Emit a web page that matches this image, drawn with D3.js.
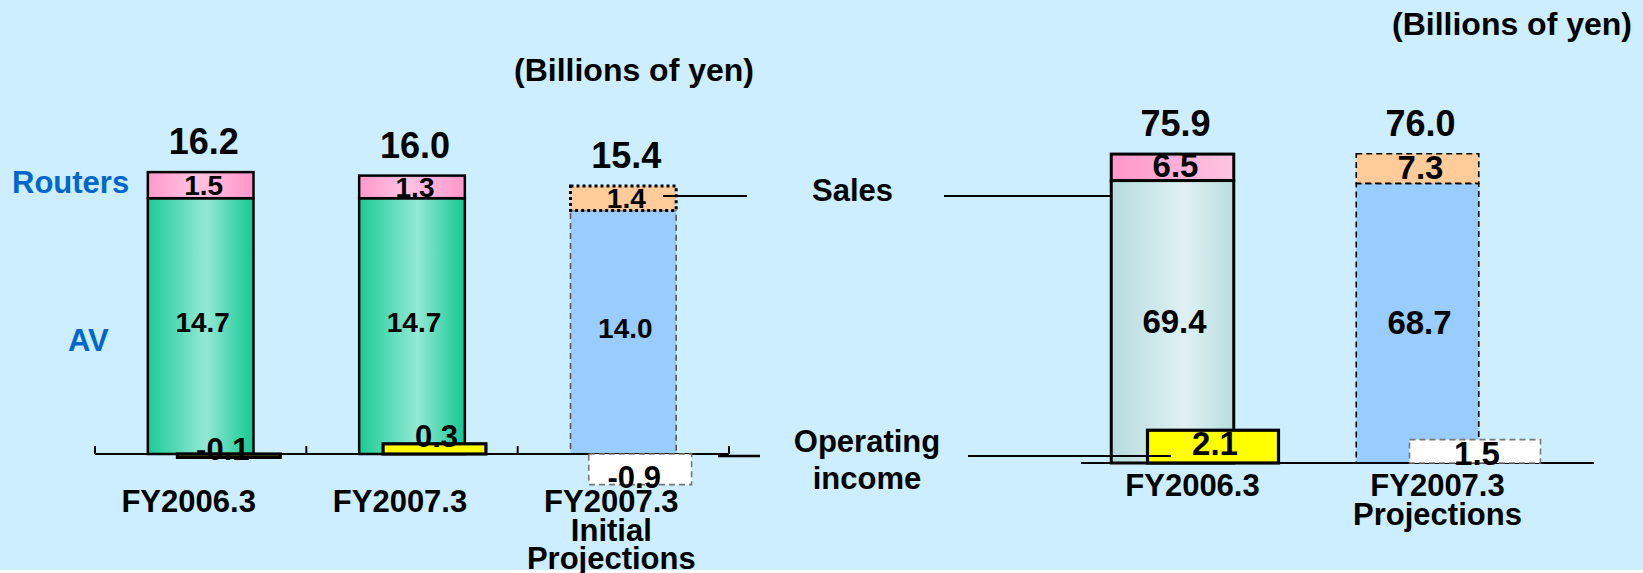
<!DOCTYPE html>
<html>
<head>
<meta charset="utf-8">
<script src="https://cdnjs.cloudflare.com/ajax/libs/d3/7.8.5/d3.min.js"></script>
<style>
  html, body { margin: 0; padding: 0; background: #fff; }
  svg { display: block; }
  text { font-family: "Liberation Sans", Arial, sans-serif; font-weight: bold; fill: #000; }
</style>
</head>
<body>
<div id="chart"></div>
<script>
// Left panel: segment sales (AV + Routers) and operating income
let leftCategories = [["FY2006.3"], ["FY2007.3"], ["FY2007.3", "Initial", "Projections"]];
let leftAV = [14.7, 14.7, 14.0];
let leftRouters = [1.5, 1.3, 1.4];
let leftTotals = [16.2, 16.0, 15.4];
let leftOpIncome = [-0.1, 0.3, -0.9];

// Right panel: total sales and operating income
let rightCategories = [["FY2006.3"], ["FY2007.3", "Projections"]];
let rightLower = [69.4, 68.7];
let rightUpper = [6.5, 7.3];
let rightTotals = [75.9, 76.0];
let rightOpIncome = [2.1, 1.5];

let W = 1643, H = 573;
let svg = d3.select("#chart").append("svg")
	.attr("width", W)
	.attr("height", H);

svg.append("rect")
	.attr("width", W)
	.attr("height", 570)
	.attr("fill", "#cceeff");

// Horizontal gradients for the "actual" bars
let defs = svg.append("defs");
function hGradient(id, stops) {
	let g = defs.append("linearGradient").attr("id", id)
		.attr("x1", "0%").attr("x2", "100%").attr("y1", "0%").attr("y2", "0%");
	stops.forEach(s => g.append("stop").attr("offset", s[0]).attr("stop-color", s[1]));
}
hGradient("green", [["0%", "#1ccb96"], ["55%", "#93e9d5"], ["100%", "#14c891"]]);
hGradient("pinkL", [["0%", "#ff99cc"], ["45%", "#ffc3e1"], ["100%", "#ff97ca"]]);
hGradient("teal", [["0%", "#b6dcdd"], ["60%", "#dff0f3"], ["100%", "#b8dedf"]]);
hGradient("pinkR", [["0%", "#ff97c9"], ["100%", "#ffc3e0"]]);

// plain hyphen for negatives, like the original slide
let fmt = v => v.toFixed(1);

function drawPanel(p) {
	let keys = p.categories.map(c => c.join(" "));
	let n = keys.length;
	let isProj = i => i === n - 1;
	let x = p.x.domain(keys), xOp = p.xOp.domain(keys);
	let g = svg.append("g");

	let rows = keys.map((k, i) => ({
		key: k, i: i, lines: p.categories[i],
		lower: p.lower[i], upper: p.upper[i], total: p.totals[i], op: p.op[i]
	}));

	// lower segment
	g.selectAll(".lower").data(rows).enter().append("rect")
		.attr("x", d => x(d.key))
		.attr("width", x.bandwidth())
		.attr("y", d => p.y(d.lower))
		.attr("height", d => p.y(0) - p.y(d.lower))
		.attr("fill", d => isProj(d.i) ? "#99ccff" : p.lowerFill)
		.attr("stroke", d => isProj(d.i) ? p.projLowerStroke : "#000")
		.attr("stroke-width", d => isProj(d.i) ? 1.6 : p.sw)
		.attr("stroke-dasharray", d => isProj(d.i) ? "6,4" : null);

	// upper segment
	g.selectAll(".upper").data(rows).enter().append("rect")
		.attr("x", d => x(d.key))
		.attr("width", x.bandwidth())
		.attr("y", d => p.y(d.lower + d.upper))
		.attr("height", d => p.y(d.lower) - p.y(d.lower + d.upper))
		.attr("fill", d => isProj(d.i) ? "#ffcc99" : p.upperFill)
		.attr("stroke", "#000")
		.attr("stroke-width", d => isProj(d.i) ? p.projUpperWidth : p.sw)
		.attr("stroke-dasharray", d => isProj(d.i) ? p.projUpperDash : null);

	// axis line and ticks at band boundaries
	let y0 = p.y(0);
	g.append("line")
		.attr("x1", p.axisX[0]).attr("x2", p.axisX[1])
		.attr("y1", y0).attr("y2", y0)
		.attr("stroke", "#000").attr("stroke-width", 2);
	if (p.ticks) {
		let bounds = keys.map(k => x(k) - x.step() * x.paddingOuter()).concat([x.range()[1]]);
		g.selectAll(".tick").data(bounds).enter().append("line")
			.attr("x1", d => d).attr("x2", d => d)
			.attr("y1", y0).attr("y2", y0 - 8)
			.attr("stroke", "#000").attr("stroke-width", 2);
	}

	// operating income bars
	g.selectAll(".op").data(rows).enter().append("rect")
		.attr("x", d => xOp(d.key))
		.attr("width", xOp.bandwidth())
		.attr("y", d => p.yOp(Math.max(0, d.op)))
		.attr("height", d => Math.abs(p.yOp(d.op) - p.yOp(0)))
		.attr("fill", d => isProj(d.i) ? "#ffffff" : "#ffff00")
		.attr("stroke", d => isProj(d.i) ? "#777" : "#000")
		.attr("stroke-width", d => isProj(d.i) ? 1.6 : 3.2)
		.attr("stroke-dasharray", d => isProj(d.i) ? "6,4" : null);

	let cx = d => x(d.key) + x.bandwidth() / 2;

	// totals
	g.selectAll(".total").data(rows).enter().append("text")
		.attr("x", d => cx(d) + 3)
		.attr("y", d => p.y(d.total) - 18)
		.attr("text-anchor", "middle")
		.style("font-size", "36px")
		.text(d => fmt(d.total));

	// segment labels
	g.selectAll(".ulab").data(rows).enter().append("text")
		.attr("x", d => cx(d) + 3)
		.attr("y", d => (p.y(d.lower) + p.y(d.lower + d.upper)) / 2 + 10)
		.attr("text-anchor", "middle")
		.style("font-size", p.segFont + "px")
		.text(d => fmt(d.upper));
	g.selectAll(".llab").data(rows).enter().append("text")
		.attr("x", d => cx(d) + 2)
		.attr("y", d => (p.y(0) + p.y(d.lower)) / 2 + p.lowerDy)
		.attr("text-anchor", "middle")
		.style("font-size", p.segFont + "px")
		.text(d => fmt(d.lower));

	// operating income labels
	g.selectAll(".oplab").data(rows).enter().append("text")
		.attr("x", d => xOp(d.key) + xOp.bandwidth() / 2 + (d.op < 0 ? -6 : 2))
		.attr("y", d => p.yOp(d.op) + p.opDy)
		.attr("text-anchor", "middle")
		.style("font-size", p.opFont + "px")
		.text(d => fmt(d.op));

	// category labels
	let cat = g.selectAll(".cat").data(rows).enter().append("text")
		.attr("text-anchor", "middle")
		.style("font-size", "31px");
	cat.selectAll("tspan").data(d => d.lines.map(l => ({ l: l, x: cx(d) + p.catDx })))
		.enter().append("tspan")
		.attr("x", d => d.x)
		.attr("y", (d, j) => p.catY + j * p.catStep)
		.text(d => d.l);
}

drawPanel({
	categories: leftCategories, lower: leftAV, upper: leftRouters, totals: leftTotals, op: leftOpIncome,
	x: d3.scaleBand().range([95, 729]).paddingInner(0.5).paddingOuter(0.25),
	xOp: d3.scaleBand().range([126, 743]).paddingInner(0.5).paddingOuter(0.25),
	y: d3.scaleLinear().domain([0, 20]).range([454, 106]),
	yOp: d3.scaleLinear().domain([-1, 1]).range([488, 420]),
	lowerFill: "url(#green)", upperFill: "url(#pinkL)", sw: 2.5,
	projLowerStroke: "#555", projUpperWidth: 3, projUpperDash: "3,3",
	axisX: [95, 729], ticks: true,
	segFont: 28, lowerDy: 6, opFont: 31, opDy: 3,
	catDx: -12, catY: 512, catStep: 28.5
});

drawPanel({
	categories: rightCategories, lower: rightLower, upper: rightUpper, totals: rightTotals, op: rightOpIncome,
	x: d3.scaleBand().range([1050, 1540]).paddingInner(0.5).paddingOuter(0.25),
	xOp: d3.scaleBand().range([1082, 1606]).paddingInner(0.5).paddingOuter(0.25),
	y: d3.scaleLinear().domain([0, 80]).range([463, 137.4]),
	yOp: d3.scaleLinear().domain([0, 3]).range([463, 416.2]),
	lowerFill: "url(#teal)", upperFill: "url(#pinkR)", sw: 3,
	projLowerStroke: "#000", projUpperWidth: 1.6, projUpperDash: "6,4",
	axisX: [1081, 1594], ticks: false,
	segFont: 33, lowerDy: 11, opFont: 33, opDy: 25,
	catDx: 20, catY: 496, catStep: 29
});

// annotations
function line(x1, y1, x2, y2, w) {
	svg.append("line").attr("x1", x1).attr("y1", y1).attr("x2", x2).attr("y2", y2)
		.attr("stroke", "#000").attr("stroke-width", w || 2);
}
line(663, 196, 747, 196);
line(944, 196, 1111, 196);
line(968, 456, 1171, 456);
line(718, 456, 760, 456, 2.5);

function label(t, x, y, anchor, size, color) {
	svg.append("text").attr("x", x).attr("y", y)
		.attr("text-anchor", anchor)
		.style("font-size", size + "px")
		.style("fill", color || "#000")
		.text(t);
}
label("Routers", 12, 193, "start", 31, "#0066cc");
label("AV", 68, 351, "start", 31, "#0066cc");
label("(Billions of yen)", 514, 81, "start", 32);
label("(Billions of yen)", 1392, 35, "start", 32);
label("Sales", 812, 201, "start", 31);
label("Operating", 867, 452, "middle", 31);
label("income", 867, 489, "middle", 31);
</script>
</body>
</html>
